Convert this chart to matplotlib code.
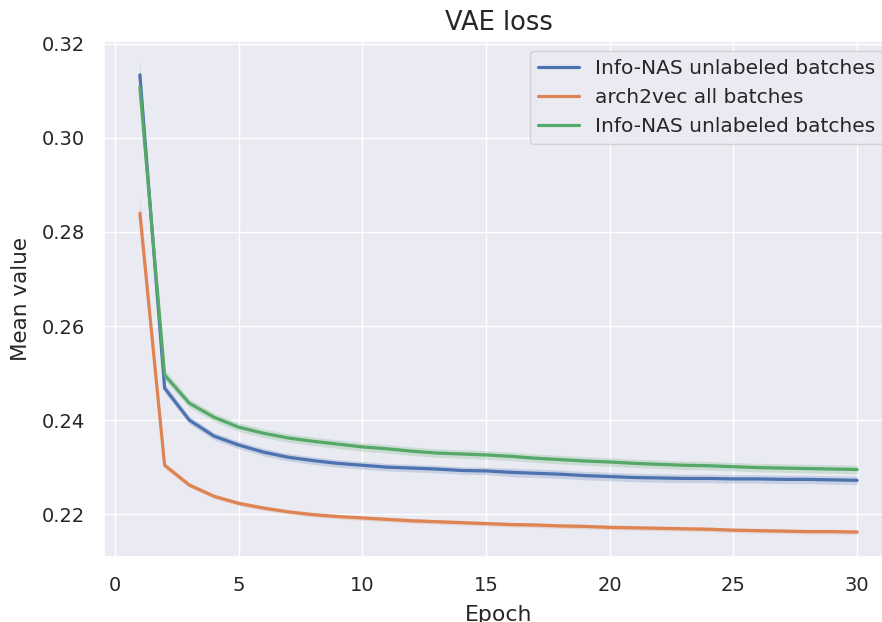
import matplotlib
matplotlib.use("Agg")
import matplotlib.pyplot as plt
import seaborn as sns
import numpy as np

epochs = list(range(1, 31))
series_labels = ["Info-NAS unlabeled batches", "arch2vec all batches", "Info-NAS unlabeled batches"]

info_nas_a = [0.3134, 0.2468, 0.2400, 0.2366, 0.2347, 0.2332, 0.2321, 0.2314, 0.2308, 0.2304,
              0.2300, 0.2298, 0.2296, 0.2293, 0.2292, 0.2289, 0.2287, 0.2285, 0.2282, 0.2280,
              0.2278, 0.2277, 0.2276, 0.2276, 0.2275, 0.2275, 0.2274, 0.2274, 0.2273, 0.2272]
arch2vec = [0.2840, 0.2304, 0.2262, 0.2238, 0.2223, 0.2213, 0.2205, 0.2199, 0.2195, 0.2192,
            0.2189, 0.2186, 0.2184, 0.2182, 0.2180, 0.2178, 0.2177, 0.2175, 0.2174, 0.2172,
            0.2171, 0.2170, 0.2169, 0.2168, 0.2166, 0.2165, 0.2164, 0.2163, 0.2163, 0.2162]
info_nas_b = [0.3108, 0.2496, 0.2436, 0.2406, 0.2385, 0.2372, 0.2362, 0.2355, 0.2349, 0.2343,
              0.2339, 0.2334, 0.2330, 0.2328, 0.2326, 0.2323, 0.2319, 0.2316, 0.2313, 0.2311,
              0.2308, 0.2306, 0.2304, 0.2303, 0.2301, 0.2299, 0.2298, 0.2297, 0.2296, 0.2295]

ci_a = [0.0028, 0.0009] + [0.0008] * 13 + [0.0009] * 15
ci_arch = [0.0036, 0.0007] + [0.0005] * 28
ci_b = [0.0013, 0.0011] + [0.0009] * 28

sns.set_theme(style="darkgrid", font_scale=1.3)
colors = sns.color_palette("deep")

fig = plt.figure(figsize=(8.82, 6.22), dpi=100)
ax = fig.add_axes([104/882, 65/622, (893-104)/882, (557-41)/622])

x = np.array(epochs)
for vals, ci, lab, c in [(info_nas_a, ci_a, series_labels[0], colors[0]),
                         (arch2vec, ci_arch, series_labels[1], colors[1]),
                         (info_nas_b, ci_b, series_labels[2], colors[2])]:
    v = np.array(vals)
    e = np.array(ci)
    ax.plot(x, v, color=c, label=lab, linewidth=2.3)
    ax.fill_between(x, v - e, v + e, color=c, alpha=0.22, linewidth=0)

ax.set_xlim(-0.45, 31.45)
ax.set_ylim(0.2109, 0.3206)
ax.set_xticks([0, 5, 10, 15, 20, 25, 30])
ax.set_yticks([0.22, 0.24, 0.26, 0.28, 0.30, 0.32])
ax.tick_params(labelsize=14)
ax.tick_params(axis="y", pad=7.7)
ax.tick_params(axis="x", pad=7.7)
ax.set_xlabel("Epoch", fontsize=15.8, labelpad=7.5)
ax.set_ylabel("Mean value", fontsize=15.5, labelpad=8)
ax.set_title("VAE loss", fontsize=18.5, pad=8)
ax.legend(loc="upper right", fontsize=14.5)

fig.savefig("out.png", dpi=100)
